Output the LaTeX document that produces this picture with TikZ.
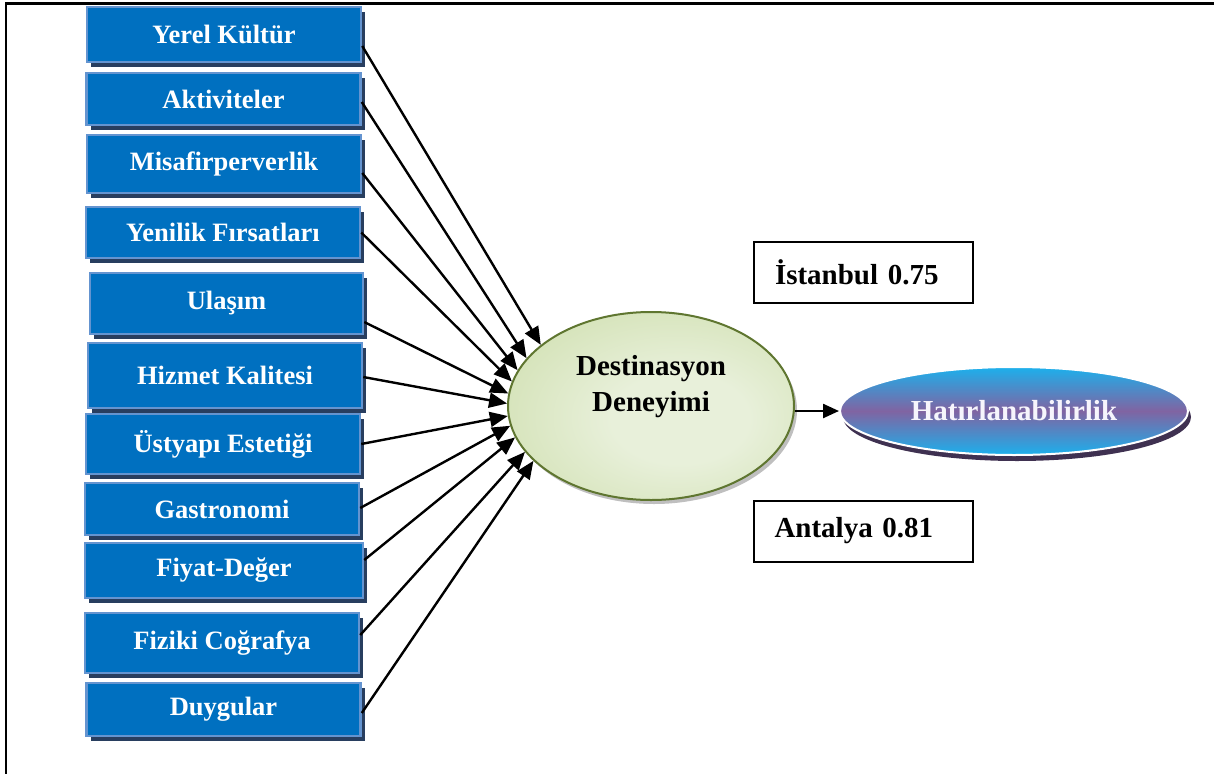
\documentclass[tikz,border=0pt]{standalone}
\usepackage{fontspec}
\setmainfont{Liberation Serif}
\usetikzlibrary{arrows.meta,shadows,shapes.geometric}

\definecolor{boxblue}{RGB}{0,112,192}
\definecolor{boxedge}{RGB}{100,148,208}
\definecolor{boxshade}{RGB}{40,62,95}
\definecolor{destin}{RGB}{232,240,218}
\definecolor{destout}{RGB}{194,214,152}
\definecolor{destedge}{RGB}{95,118,48}
\definecolor{hatcyan}{RGB}{28,176,236}
\definecolor{hatpurple}{RGB}{128,100,162}
\definecolor{hatshade}{RGB}{63,49,81}
\definecolor{hattext}{RGB}{246,245,252}

\pgfdeclareradialshading{destshading}{\pgfpoint{6bp}{-4bp}}{%
  color(0bp)=(destin); color(12bp)=(destin); color(50bp)=(destout); color(80bp)=(destout)}

\tikzset{
  factor/.style={rectangle, fill=boxblue, draw=boxedge, line width=2.5pt,
    minimum width=274pt, inner sep=0pt, text=white,
    font=\fontsize{26.5}{30}\selectfont\bfseries,
    drop shadow={shadow xshift=4pt, shadow yshift=-5pt, fill=boxshade, opacity=1}},
  arr/.style={line width=2.4pt, -{Triangle[length=18pt,width=15pt]}},
  valuebox/.style={rectangle, draw=black, line width=2pt, fill=white,
    inner xsep=21pt, inner ysep=0pt, text width=177pt, align=left,
    minimum height=61pt, font=\fontsize{29}{32}\selectfont\bfseries}
}

\begin{document}
\begin{tikzpicture}[x=1pt,y=-1pt]
\useasboundingbox (0,0) rectangle (1214,773);

% frame edges
\draw[line width=2.5pt] (1216,3.5) -- (6,3.5) -- (6,775);

% factor boxes
\node[factor, minimum height=55pt] (b1) at (224,34.5) {Yerel Kültür};
\node[factor, minimum height=52pt] (b2) at (223.5,99) {Aktiviteler};
\node[factor, minimum height=58pt] (b3) at (224,164) {Misafirperverlik};
\node[factor, minimum height=51pt] (b4) at (223,232.5) {Yenilik Fırsatları};
\node[factor, minimum height=61pt, minimum width=273pt] (b5) at (226.5,303.5) {Ulaşım};
\node[factor, minimum height=65pt] (b6) at (225,375.5) {Hizmet Kalitesi};
\node[factor, minimum height=60pt] (b7) at (223,444) {Üstyapı Estetiği};
\node[factor, minimum height=52pt] (b8) at (222,509) {Gastronomi};
\node[factor, minimum height=55pt, minimum width=278pt] (b9) at (224,570.5) {Fiyat-Değer};
\node[factor, minimum height=60pt] (b10) at (222,643) {Fiziki Coğrafya};
\node[factor, minimum height=53pt] (b11) at (223.5,709.5) {Duygular};

% central construct
\node[ellipse, minimum width=286pt, minimum height=188pt, inner sep=0pt,
  draw=destedge, line width=2pt, shading=destshading,
  drop shadow={shadow xshift=3pt, shadow yshift=-4pt, fill=black, opacity=0.25}]
  (dest) at (651,406) {};
\node[align=center, font=\fontsize{29}{36}\selectfont\bfseries] (destlabel)
  at (651,387) {Destinasyon\\Deneyimi};

% outcome construct
\node[ellipse, minimum width=348pt, minimum height=88pt, inner sep=0pt,
  top color=hatcyan, bottom color=hatcyan, middle color=hatpurple,
  draw=white, line width=2pt, text=hattext,
  font=\fontsize{29}{32}\selectfont\bfseries,
  drop shadow={shadow xshift=3pt, shadow yshift=-6pt, fill=hatshade, opacity=1}]
  (hat) at (1014,411) {Hatırlanabilirlik};

% coefficient boxes
\node[valuebox] (ist) at (863.5,272.5) {İstanbul 0.75};
\node[valuebox] (ant) at (863,531) {Antalya 0.81};

% paths into the central construct
\draw[arr] ([yshift=-11.5pt]b1.east) -- (dest.151.5);
\draw[arr] ([yshift=-3pt]b2.east) -- (dest.159);
\draw[arr] ([yshift=-9pt]b3.east) -- (dest.165);
\draw[arr] (b4.east) -- (dest.170.5);
\draw[arr] ([yshift=-18.5pt]b5.east) -- (dest.175.5);
\draw[arr] ([yshift=-1.5pt]b6.east) -- (dest.179);
\draw[arr] (b7.east) -- (dest.184);
\draw[arr] ([yshift=1pt]b8.east) -- (dest.188.6);
\draw[arr] ([yshift=10.5pt]b9.east) -- (dest.193.8);
\draw[arr] ([yshift=8pt]b10.east) -- (dest.200.3);
\draw[arr] ([yshift=-3.5pt]b11.east) -- (dest.205.7);

% path to the outcome
\draw[line width=2.4pt, -{Triangle[length=16pt,width=14pt]}]
  (hat.west -| dest.east) -- (hat.west);
\end{tikzpicture}
\end{document}
